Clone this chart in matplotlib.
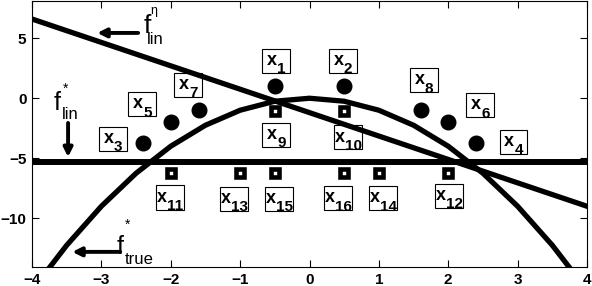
import matplotlib
matplotlib.use("Agg")
import matplotlib.pyplot as plt
from matplotlib.patches import Rectangle

plt.rcParams['font.family'] = ['Liberation Sans', 'DejaVu Sans']

# true function f*_true, read every half unit
true_x = [-4, -3.5, -3, -2.5, -2, -1.5, -1, -0.5, 0, 0.5, 1, 1.5, 2, 2.5, 3, 3.5, 4]
true_y = [-16, -12.25, -9, -6.25, -4, -2.25, -1, -0.25, 0,
          -0.25, -1, -2.25, -4, -6.25, -9, -12.25, -16]

# best linear fit f*_lin and the eta fit
lin_star_x = [-4, 4]
lin_star_y = [-5.33, -5.33]
lin_eta_x = [-4, 4]
lin_eta_y = [6.6, -9.0]

# filled points x1..x8
circ_x = [-0.5, 0.5, -2.4, 2.4, -2.0, 2.0, -1.6, 1.6]
circ_y = [1.0, 1.0, -3.75, -3.75, -2.0, -2.0, -1.0, -1.0]
# open squares x9..x16
sq_x = [-0.5, 0.5, -2.0, 2.0, -1.0, 1.0, -0.5, 0.5]
sq_y = [-1.1, -1.1, -6.25, -6.25, -6.25, -6.25, -6.25, -6.25]

# label boxes for x1..x16
lab_names = [str(i) for i in range(1, 17)]
lab_x = [-0.48, 0.48, -2.83, 2.94, -2.41, 2.46, -1.75, 1.65,
         -0.48, 0.56, -2.01, 2.01, -1.09, 1.06, -0.44, 0.41]
lab_y = [3.1, 3.1, -3.39, -3.64, -0.52, -0.6, 1.1, 1.48,
         -3.06, -3.27, -8.27, -8.14, -8.39, -8.35, -8.39, -8.35]

xticks = [-4, -3, -2, -1, 0, 1, 2, 3, 4]
yticks = [-10, -5, 0, 5]

fig = plt.figure(figsize=(5.92, 2.86), dpi=100)
ax = fig.add_axes([32 / 592, 1 - 267 / 286, 555 / 592, 266 / 286])

ax.plot(true_x, true_y, color='k', lw=3.8, zorder=3)
ax.plot(lin_star_x, lin_star_y, color='k', lw=4.3, zorder=3)
ax.plot(lin_eta_x, lin_eta_y, color='k', lw=3.8, zorder=3)

ax.plot(circ_x, circ_y, 'o', color='k', ms=10.5, zorder=4)
ax.plot(sq_x, sq_y, 's', mfc='white', mec='k', ms=6.2, mew=3.3, zorder=4)

W, H = 0.40, 2.0
for name, lx, ly in zip(lab_names, lab_x, lab_y):
    ax.add_patch(Rectangle((lx - W / 2, ly - H / 2), W, H, facecolor='white',
                           edgecolor='k', lw=0.8, zorder=2))
    total = 10 + 8.2 * len(name)
    left = -total / 2 * 0.72
    ax.annotate('x', (lx, ly), xytext=(left, -2.9), textcoords='offset points',
                ha='left', va='baseline', fontsize=13, fontweight='bold', zorder=5)
    ax.annotate(name, (lx, ly), xytext=(left + 10 * 0.72, -8.8),
                textcoords='offset points', ha='left', va='baseline',
                fontsize=11, fontweight='bold', zorder=5)

arrow = dict(arrowstyle='-|>', color='k', lw=2.8, mutation_scale=13,
             shrinkA=0, shrinkB=0)

# f^eta_lin
ax.annotate('', xy=(-3.06, 5.44), xytext=(-2.47, 5.44), arrowprops=arrow)
ax.text(-2.39, 5.44, 'f', fontsize=19, va='baseline')
ax.text(-2.29, 7.0, 'η', fontsize=9, va='baseline')
ax.text(-2.34, 4.55, 'lin', fontsize=12, va='baseline')

# f*_lin
ax.annotate('', xy=(-3.48, -4.9), xytext=(-3.48, -2.06), arrowprops=arrow)
ax.text(-3.69, -0.98, 'f', fontsize=18, va='baseline')
ax.text(-3.56, 0.45, '*', fontsize=10, va='baseline')
ax.text(-3.57, -1.75, 'lin', fontsize=12, va='baseline')

# f*_true
ax.annotate('', xy=(-3.42, -12.8), xytext=(-2.73, -12.8), arrowprops=arrow)
ax.text(-2.78, -13.0, 'f', fontsize=18, va='baseline')
ax.text(-2.66, -10.9, '*', fontsize=10, va='baseline')
ax.text(-2.67, -13.8, 'true', fontsize=12, va='baseline')

ax.set_xlim(-4, 4)
ax.set_ylim(-14.06, 8.1)
ax.set_xticks(xticks)
ax.set_yticks(yticks)
ax.tick_params(direction='in', top=True, right=True, length=5, width=0.8,
               labelsize=11, pad=4)
for lbl in ax.get_xticklabels() + ax.get_yticklabels():
    lbl.set_fontweight('bold')
for s in ax.spines.values():
    s.set_linewidth(0.8)

fig.savefig('out.png', dpi=100)
